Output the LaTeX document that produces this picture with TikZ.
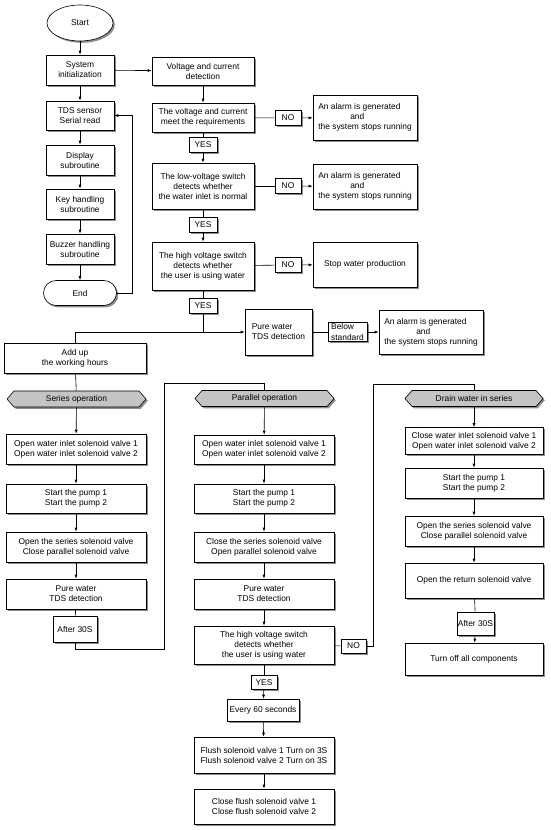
\documentclass[tikz,border=0pt]{standalone}
\usepackage{fontspec}
\setmainfont{Liberation Sans}
\usetikzlibrary{arrows.meta,shadows,shapes.geometric,calc}
\definecolor{hexgray}{HTML}{C4C4C4}
\newcommand\hexnode[5]{%
 \begin{scope}[shift={(#2+1.8,#3+1.8)}]
   \fill[black!45] (-#4,0) -- (-#4+7,-8) -- (#4-7,-8) -- (#4,0) -- (#4-7,8) -- (-#4+7,8) -- cycle;
 \end{scope}
 \begin{scope}[shift={(#2,#3)}]
   \draw[ln,fill=hexgray] (-#4,0) -- (-#4+7,-8) -- (#4-7,-8) -- (#4,0) -- (#4-7,8) -- (-#4+7,8) -- cycle;
 \end{scope}
 \node[inner sep=0pt,minimum width=2*#4,minimum height=16] (#1) at (#2,#3) {#5};
}
\begin{document}
\begin{tikzpicture}[x=1pt,y=-1pt,
  font=\fontsize{8.4}{10}\selectfont,
  shd/.style={drop shadow={shadow xshift=1.8pt,shadow yshift=-1.8pt,fill=black!45,opacity=1}},
  box/.style={draw,fill=white,shd,align=center,inner sep=1pt,line width=0.6pt},
  ln/.style={line width=0.6pt},
  arr/.style={ln,-{Latex[length=4pt,width=3pt]}},
]
\useasboundingbox[fill=white] (0,0) rectangle (550,830);

% left column
\node[box,ellipse,minimum width=66,minimum height=36] (start) at (80,23) {Start};
\node[box,minimum width=68,minimum height=30] (init) at (80,70) {System\\initialization};
\node[box,minimum width=68,minimum height=29] (tds) at (80,115.5) {TDS sensor\\Serial read};
\node[box,minimum width=68,minimum height=30] (disp) at (80,160) {Display\\subroutine};
\node[box,minimum width=68,minimum height=30] (key) at (80,204) {Key handling\\subroutine};
\node[box,minimum width=68,minimum height=30] (buzz) at (80,249) {Buzzer handling\\subroutine};
\node[box,rounded corners=12.5pt,minimum width=73,minimum height=25] (end) at (80,293) {End};

\draw[arr] (start) -- (init);
\draw[arr] (init) -- (tds);
\draw[arr] (tds) -- (disp);
\draw[arr] (disp) -- (key);
\draw[arr] (key) -- (buzz);
\draw[arr] (buzz) -- (end);
\draw[arr] (end.east) -- ++(15.5,0) |- (tds.east);

% middle column
\node[box,minimum width=102,minimum height=28] (volt) at (203,71) {Voltage and current\\detection};
\node[box,minimum width=102,minimum height=29] (meet) at (203,117.5) {The voltage and current\\meet the requirements};
\node[box,minimum width=26,minimum height=15] (no1) at (288,118) {NO};
\node[box,align=left,minimum width=104,minimum height=45] (al1) at (365,117.5) {An alarm is generated\\\hspace*{32pt}and\\the system stops running};
\node[box,minimum width=28,minimum height=15] (yes1) at (203,145) {YES};
\node[box,minimum width=102,minimum height=46] (low) at (203,186) {The low-voltage switch\\detects whether\\the water inlet is normal};
\node[box,minimum width=26,minimum height=15] (no2) at (288,186) {NO};
\node[box,align=left,minimum width=104,minimum height=45] (al2) at (365,186.5) {An alarm is generated\\\hspace*{32pt}and\\the system stops running};
\node[box,minimum width=28,minimum height=15] (yes2) at (203,225) {YES};
\node[box,minimum width=102,minimum height=48] (high) at (203,266) {The high voltage switch\\detects whether\\the user is using water};
\node[box,minimum width=26,minimum height=15] (no3) at (288,265) {NO};
\node[box,minimum width=104,minimum height=45] (stop) at (365,264.5) {Stop water production};
\node[box,minimum width=28,minimum height=15] (yes3) at (203,305.5) {YES};

\draw[arr] (init) -- (volt);
\draw[arr] (volt) -- (meet);
\draw[ln] (meet) -- (no1);
\draw[arr] (no1) -- (al1);
\draw[ln] (meet) -- (yes1);
\draw[arr] (yes1) -- (low);
\draw[ln] (low) -- (no2);
\draw[arr] (no2) -- (al2);
\draw[ln] (low) -- (yes2);
\draw[arr] (yes2) -- (high);
\draw[ln] (high) -- (no3);
\draw[arr] (no3) -- (stop);
\draw[ln] (high) -- (yes3);

\coordinate (j1) at (203,332);
\coordinate (j0) at (75,332);
\node[box,align=left,minimum width=67,minimum height=46] (pure) at (278.5,332) {Pure water\\TDS detection};
\node[box,align=left,minimum width=39,minimum height=19,font=\fontsize{8.4}{10.5}\selectfont] (below) at (347.5,332) {Below\\standard};
\node[box,align=left,minimum width=104,minimum height=44] (al3) at (431,332) {An alarm is generated\\\hspace*{32pt}and\\the system stops running};
\node[box,minimum width=142,minimum height=30] (add) at (75,358) {Add up\\the working hours};

\draw[ln] (yes3) -- (j1);
\draw[arr] (j0) -- (pure.west);
\draw[ln] (pure) -- (below);
\draw[arr] (below) -- (al3);
\draw[ln] (j0) -- (add.north);

% hexagons
\hexnode{ser}{76.5}{399}{69.5}{Series operation}
\hexnode{par}{264.5}{398.5}{69.5}{Parallel operation}
\hexnode{drn}{474}{398.5}{69}{Drain water in series}
\draw[ln] (add) -- (ser);

% series column
\node[box,minimum width=140,minimum height=30] (s1) at (76,449) {Open water inlet solenoid valve 1\\Open water inlet solenoid valve 2};
\node[box,minimum width=140,minimum height=29] (s2) at (76,498.5) {Start the pump 1\\Start the pump 2};
\node[box,minimum width=140,minimum height=30] (s3) at (76,547) {Open the series solenoid valve\\Close parallel solenoid valve};
\node[box,minimum width=140,minimum height=30] (s4) at (76,594) {Pure water\\TDS detection};
\node[box,minimum width=44,minimum height=26] (s5) at (75,629) {After 30S};
\draw[arr] (ser) -- (s1);
\draw[arr] (s1) -- (s2);
\draw[arr] (s2) -- (s3);
\draw[arr] (s3) -- (s4);
\draw[ln] (s4) -- (s5);
\coordinate (c1) at (164,649);
\coordinate (c2) at (264.5,383);
\draw[ln] (s5.south) |- (c1) |- (c2) -- (par.north);

% parallel column
\node[box,minimum width=140,minimum height=29] (p1) at (264,449.5) {Open water inlet solenoid valve 1\\Open water inlet solenoid valve 2};
\node[box,minimum width=140,minimum height=29] (p2) at (264,498.5) {Start the pump 1\\Start the pump 2};
\node[box,minimum width=140,minimum height=30] (p3) at (264,547) {Close the series solenoid valve\\Open parallel solenoid valve};
\node[box,minimum width=140,minimum height=30] (p4) at (264,594) {Pure water\\TDS detection};
\node[box,minimum width=140,minimum height=38] (p5) at (264,645) {The high voltage switch\\detects whether\\the user is using water};
\node[box,minimum width=25,minimum height=14] (no4) at (353.5,646) {NO};
\node[box,minimum width=26,minimum height=14] (yes4) at (264,682.5) {YES};
\node[box,minimum width=72,minimum height=22] (e60) at (263,710) {Every 60 seconds};
\node[box,minimum width=140,minimum height=36] (fl) at (264,755) {Flush solenoid valve 1 Turn on 3S\\Flush solenoid valve 2 Turn on 3S};
\node[box,minimum width=140,minimum height=35] (cl) at (264,806.5) {Close flush solenoid valve 1\\Close flush solenoid valve 2};
\draw[arr] (par) -- (p1);
\draw[arr] (p1) -- (p2);
\draw[arr] (p2) -- (p3);
\draw[arr] (p3) -- (p4);
\draw[arr] (p4) -- (p5);
\draw[ln] (p5) -- (no4);
\draw[ln] (p5) -- (yes4);
\draw[arr] (yes4) -- (e60);
\draw[arr] (e60) -- (fl);
\draw[arr] (fl) -- (cl);
\coordinate (c3) at (373,384);
\coordinate (c4) at (474,384);
\draw[ln] (no4.east) -| (c3) -- (c4) -- (drn.north);

% drain column
\node[box,minimum width=138,minimum height=27] (d1) at (474,441) {Close water inlet solenoid valve 1\\Open water inlet solenoid valve 2};
\node[box,minimum width=138,minimum height=30] (d2) at (474,483) {Start the pump 1\\Start the pump 2};
\node[box,minimum width=138,minimum height=30] (d3) at (474,531) {Open the series solenoid valve\\Close parallel solenoid valve};
\node[box,minimum width=138,minimum height=35] (d4) at (474,580.5) {Open the return solenoid valve};
\node[box,minimum width=37,minimum height=23] (d5) at (475.5,623.5) {After 30S};
\node[box,minimum width=138,minimum height=32] (d6) at (474,659) {Turn off all components};
\draw[arr] (drn) -- (d1);
\draw[arr] (d1) -- (d2);
\draw[arr] (d2) -- (d3);
\draw[arr] (d3) -- (d4);
\draw[ln] (d4) -- (d5);
\draw[arr] (d5) -- (d6);
\end{tikzpicture}
\end{document}
